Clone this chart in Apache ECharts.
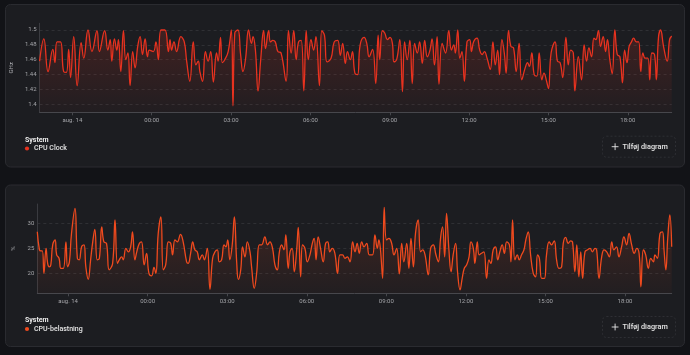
<!DOCTYPE html>
<html><head><meta charset="utf-8">
<script src="https://cdn.jsdelivr.net/npm/echarts@6/dist/echarts.min.js"></script>
<style>html,body{margin:0;padding:0;background:#121317;}#c{width:690px;height:355px;}</style>
</head><body><div id="c"></div>
<script>
// ---- data ----
const xTickHours = [-3, 0, 3, 6, 9, 12, 15, 18];
const xTickLabels = ['aug. 14', '00:00', '03:00', '06:00', '09:00', '12:00', '15:00', '18:00'];
const clockTicks = [1.4, 1.42, 1.44, 1.46, 1.48, 1.5];
const loadTicks = [20, 25, 30];

const clockHours = [-4.24,-4.08,-3.92,-3.74,-3.66,-3.58,-3.45,-3.33,-3.23,-3.14,-3.07,-2.95,-2.82,-2.67,-2.57,-2.41,-2.26,-2.07,-1.98,-1.78,-1.66,-1.57,-1.51,-1.41,-1.32,-1.26,-1.17,-1.07,-0.98,-0.90,-0.82,-0.72,-0.63,-0.53,-0.44,-0.35,-0.25,-0.16,-0.09,0.06,0.16,0.25,0.35,0.50,0.63,0.69,0.75,0.84,0.94,1.10,1.23,1.32,1.44,1.57,1.67,1.76,1.82,1.92,2.03,2.13,2.23,2.33,2.45,2.51,2.60,2.67,2.76,2.89,3.01,3.07,3.14,3.26,3.36,3.45,3.55,3.66,3.77,3.83,3.92,4.02,4.12,4.23,4.30,4.42,4.49,4.58,4.67,4.77,4.89,5.08,5.17,5.27,5.37,5.46,5.55,5.65,5.75,5.84,5.92,6.02,6.12,6.21,6.34,6.43,6.53,6.63,6.78,6.90,7.03,7.13,7.22,7.32,7.40,7.51,7.59,7.68,7.78,7.88,8.03,8.13,8.22,8.35,8.47,8.56,8.62,8.72,8.81,8.91,9.01,9.10,9.16,9.26,9.38,9.48,9.56,9.66,9.76,9.85,9.94,10.04,10.13,10.23,10.32,10.42,10.52,10.60,10.69,10.79,10.86,10.98,11.11,11.23,11.33,11.42,11.48,11.57,11.65,11.73,11.82,11.92,12.02,12.09,12.17,12.30,12.40,12.49,12.58,12.68,12.80,12.90,12.99,13.08,13.15,13.24,13.33,13.40,13.49,13.58,13.68,13.78,13.89,13.99,14.12,14.21,14.28,14.37,14.46,14.56,14.65,14.75,14.83,14.93,15.00,15.10,15.25,15.34,15.44,15.54,15.66,15.75,15.84,15.94,16.00,16.13,16.25,16.35,16.44,16.53,16.63,16.72,16.79,16.89,16.97,17.07,17.16,17.23,17.32,17.41,17.51,17.60,17.70,17.80,17.88,17.97,18.05,18.14,18.22,18.32,18.41,18.49,18.57,18.66,18.76,18.83,18.91,19.01,19.08,19.16,19.24,19.35,19.49,19.58,19.66];
const clockGHz = [1.458,1.488,1.444,1.474,1.456,1.484,1.484,1.444,1.443,1.474,1.436,1.491,1.425,1.483,1.462,1.5,1.471,1.499,1.471,1.499,1.473,1.487,1.458,1.488,1.473,1.487,1.444,1.499,1.46,1.469,1.425,1.471,1.449,1.478,1.491,1.467,1.488,1.464,1.473,1.471,1.484,1.46,1.5,1.5,1.471,1.487,1.473,1.484,1.471,1.491,1.484,1.458,1.431,1.484,1.453,1.458,1.444,1.431,1.471,1.458,1.471,1.430,1.469,1.458,1.490,1.456,1.46,1.471,1.5,1.398,1.496,1.5,1.467,1.444,1.462,1.5,1.482,1.491,1.473,1.418,1.46,1.499,1.475,1.499,1.484,1.486,1.484,1.471,1.469,1.431,1.499,1.469,1.499,1.46,1.484,1.486,1.418,1.499,1.46,1.487,1.473,1.491,1.425,1.499,1.493,1.457,1.462,1.484,1.486,1.466,1.482,1.455,1.471,1.46,1.471,1.442,1.44,1.48,1.49,1.482,1.464,1.474,1.428,1.493,1.46,1.499,1.496,1.487,1.49,1.482,1.457,1.46,1.487,1.417,1.484,1.46,1.486,1.428,1.482,1.469,1.484,1.455,1.486,1.464,1.473,1.488,1.453,1.491,1.427,1.482,1.469,1.499,1.473,1.48,1.469,1.5,1.462,1.471,1.431,1.484,1.487,1.471,1.484,1.489,1.473,1.467,1.471,1.462,1.447,1.484,1.453,1.473,1.44,1.487,1.469,1.442,1.499,1.478,1.476,1.444,1.482,1.433,1.449,1.456,1.451,1.469,1.44,1.438,1.469,1.433,1.442,1.431,1.421,1.469,1.484,1.458,1.456,1.436,1.49,1.453,1.473,1.469,1.418,1.464,1.433,1.48,1.458,1.476,1.464,1.489,1.487,1.499,1.478,1.491,1.471,1.487,1.46,1.441,1.5,1.467,1.464,1.429,1.473,1.456,1.478,1.484,1.489,1.484,1.484,1.444,1.469,1.462,1.462,1.433,1.469,1.467,1.433,1.49,1.5,1.478,1.458,1.487,1.492];

const loadHours = [-4.16,-4.08,-4.03,-3.97,-3.91,-3.83,-3.77,-3.71,-3.65,-3.58,-3.49,-3.43,-3.34,-3.27,-3.18,-3.08,-3.02,-2.95,-2.87,-2.74,-2.65,-2.58,-2.49,-2.40,-2.33,-2.24,-2.15,-2.07,-1.99,-1.90,-1.82,-1.73,-1.65,-1.55,-1.45,-1.32,-1.23,-1.14,-1.07,-0.98,-0.92,-0.82,-0.73,-0.64,-0.57,-0.48,-0.41,-0.31,-0.23,-0.13,-0.04,0.05,0.15,0.24,0.31,0.40,0.50,0.59,0.68,0.78,0.87,0.94,1.03,1.12,1.24,1.34,1.47,1.53,1.62,1.70,1.78,1.87,1.95,2.06,2.14,2.25,2.35,2.45,2.54,2.63,2.70,2.79,2.88,2.95,3.02,3.10,3.19,3.27,3.36,3.42,3.51,3.58,3.67,3.76,3.86,3.92,4.02,4.11,4.21,4.30,4.42,4.52,4.61,4.71,4.80,4.89,4.96,5.05,5.14,5.21,5.30,5.37,5.45,5.53,5.62,5.68,5.77,5.84,5.93,6.02,6.12,6.21,6.28,6.35,6.43,6.52,6.62,6.71,6.79,6.87,6.96,7.06,7.16,7.25,7.35,7.44,7.53,7.63,7.73,7.82,7.90,7.98,8.07,8.16,8.26,8.36,8.48,8.57,8.66,8.72,8.78,8.86,8.92,9.01,9.10,9.20,9.29,9.39,9.49,9.58,9.66,9.77,9.85,9.93,10.02,10.10,10.20,10.29,10.37,10.46,10.58,10.67,10.77,10.87,10.96,11.05,11.12,11.20,11.27,11.36,11.44,11.52,11.61,11.69,11.78,11.86,11.94,12.03,12.12,12.19,12.28,12.34,12.43,12.50,12.59,12.68,12.78,12.87,12.94,13.03,13.12,13.20,13.28,13.37,13.45,13.54,13.64,13.70,13.76,13.85,13.94,14.01,14.10,14.19,14.26,14.35,14.44,14.54,14.63,14.70,14.77,14.86,14.96,15.04,15.14,15.23,15.33,15.42,15.51,15.61,15.67,15.76,15.86,15.95,16.02,16.11,16.18,16.26,16.33,16.40,16.49,16.59,16.68,16.77,16.87,16.93,17.02,17.12,17.21,17.31,17.41,17.50,17.58,17.68,17.77,17.87,17.96,18.06,18.15,18.25,18.35,18.44,18.53,18.60,18.69,18.78,18.88,18.97,19.07,19.13,19.22,19.32,19.41,19.47,19.54,19.61,19.69,19.76];
const loadPct = [28.3,24.7,24.5,24.5,20,25,22,21.3,21.7,25.7,26.7,23.7,23,21,21,26.3,21.3,22.3,28,33,23,22.7,25.3,25.7,21.3,18.8,22.7,26.3,28.8,22.7,23,29.3,26.3,26,20.7,22,30.7,22,22.7,23.3,22.7,25,24.3,25.3,28.3,22.7,24.3,26,26.3,21.7,24,20,19.5,21.2,20,28,31.3,20.7,21.7,26.3,26,23.7,26.7,26.3,27.8,26.3,22.3,22,24,26.3,24.7,24.3,22.7,23.7,22.7,25,16.8,23,24.3,24.7,22.3,22.7,25.7,25.3,26.7,22.7,25.7,31.3,22,18.8,20.7,25.3,23.3,26.3,24.3,21.3,17,20,25.7,25.7,27.3,25.7,26.3,25,21.7,20.7,24,25.7,24.7,27.7,21,24.3,25,20.3,24.7,29.2,19.3,25.7,25,22.3,23.7,26,27,22.7,27.3,25,22.3,26,26.3,24.3,25,24,20,23.7,23.7,23,23.3,22.3,26.3,24.3,26,24,26.3,25.3,26,23.7,23.7,27.7,25,26.7,24.7,19,33.2,26.7,27,26,23.7,25,19.9,26,22.3,26,21,27,21.3,28,30.7,24.3,24.7,23.7,19.7,25,25.7,23.7,22.3,27.3,29.3,23.3,32,24.7,20.3,23.7,26,20,16.7,19,21,21.7,23.3,26.3,25,22,26.3,23.7,24,24.3,19,22.7,22,24.7,25.3,22.7,24.3,25.7,24,26.3,25.7,22.3,30.7,22.7,23.7,22.7,23.7,24.7,26.7,28.3,23.7,20,19.3,23.7,23,19,19,23.7,26.3,25.7,26.5,22.7,21,21.3,26,27.2,26,26.5,26.3,20.3,25.7,19.3,24.3,19,24.3,24.7,25,24.3,25,24.7,19,23.3,24.7,24.3,23.3,26.3,24.7,25.3,23.3,25.3,27.3,25.7,28,25.7,24,25,24,17.3,24.7,23.7,21,23,22.3,23.7,23,28,28.3,24.7,20.7,27,31.7,25.3];

// ---- chart ----
const FONT = 'Roboto, "Noto Sans", sans-serif';
const LABEL = '#a3a4a8';
const zip = (a, b) => a.map((v, i) => [v, b[i]]);

function xAxis(gridIndex, min, max) {
  return {
    type: 'value', gridIndex, min, max,
    axisLine: { show: true, onZero: false, lineStyle: { color: '#46474c', width: 1 } },
    axisTick: { show: true, length: 3, lineStyle: { color: '#46474c' }, customValues: xTickHours },
    axisLabel: {
      color: LABEL, fontSize: 6, fontFamily: FONT, margin: 5,
      customValues: xTickHours,
      formatter: v => { const i = xTickHours.indexOf(v); return i >= 0 ? xTickLabels[i] : ''; }
    },
    splitLine: { show: false }
  };
}
function yAxis(gridIndex, min, max, ticks, name, splitNumber) {
  return {
    type: 'value', gridIndex, min, max, splitNumber,
    name, nameLocation: 'middle', nameGap: 21, nameRotate: 90,
    nameTextStyle: { color: LABEL, fontSize: 6, fontFamily: FONT },
    axisLine: { show: true, onZero: false, lineStyle: { color: '#3a3b40', width: 1 } },
    axisTick: { show: false },
    axisLabel: { color: LABEL, fontSize: 6, fontFamily: FONT, margin: 3, customValues: ticks },
    splitLine: { show: true, showMinLine: false, showMaxLine: false,
      lineStyle: { color: '#38393e', type: [3, 3], width: 0.7 } }
  };
}
function area(r, g, b) {
  return {
    color: new echarts.graphic.LinearGradient(0, 0, 0, 1, [
      { offset: 0, color: `rgba(${r},${g},${b},0.26)` },
      { offset: 1, color: `rgba(${r},${g},${b},0.04)` }
    ])
  };
}

function card(y, h) {
  return { type: 'rect', z: -10, shape: { x: 5.5, y: y, width: 679, height: h, r: 5 },
    style: { fill: '#1c1d21', stroke: '#2a2b30', lineWidth: 1 } };
}
function legend(y, color, label) {
  return [
    { type: 'text', z: 10, style: { text: 'System', x: 25, y: y, font: 'bold 7px ' + FONT, fill: '#ececec', verticalAlign: 'middle' } },
    { type: 'circle', z: 10, shape: { cx: 27, cy: y + 8.5, r: 2.1 }, style: { fill: color } },
    { type: 'text', z: 10, style: { text: label, x: 34, y: y + 8.5, font: '500 7px ' + FONT, fill: '#e6e6e6', verticalAlign: 'middle' } }
  ];
}
function button(y) {
  return [
    { type: 'rect', z: 10, shape: { x: 602.5, y: y - 10.5, width: 73, height: 21, r: 4 },
      style: { fill: 'transparent', stroke: '#2e2f34', lineWidth: 1, lineDash: [2, 2] } },
    { type: 'line', z: 10, shape: { x1: 611.7, y1: y, x2: 618.5, y2: y }, style: { stroke: '#e6e6e6', lineWidth: 0.9 } },
    { type: 'line', z: 10, shape: { x1: 615.1, y1: y - 3.4, x2: 615.1, y2: y + 3.4 }, style: { stroke: '#e6e6e6', lineWidth: 0.9 } },
    { type: 'text', z: 10, style: { text: 'Tilføj diagram', x: 622.5, y: y, font: '500 7.3px ' + FONT, fill: '#e6e6e6', verticalAlign: 'middle' } }
  ];
}

const chart = echarts.init(document.getElementById('c'), null, { renderer: 'canvas' });
chart.setOption({
  backgroundColor: '#121317',
  animation: false,
  textStyle: { fontFamily: FONT },
  grid: [
    { left: 37.3, right: 18.3, top: 23.3, height: 89 },
    { left: 37.3, right: 18.3, top: 204, height: 89.3 }
  ],
  xAxis: [xAxis(0, -4.24, 19.66), xAxis(1, -4.16, 19.76)],
  yAxis: [
    yAxis(0, 1.3892, 1.509, clockTicks, 'GHz', 5),
    yAxis(1, 16.0, 33.86, loadTicks, '%', 3)
  ],
  series: [
    { type: 'line', xAxisIndex: 0, yAxisIndex: 0, data: zip(clockHours, clockGHz),
      smooth: 0.45, showSymbol: false, lineStyle: { color: '#e8321f', width: 1.3 },
      areaStyle: area(232, 50, 31) },
    { type: 'line', xAxisIndex: 1, yAxisIndex: 1, data: zip(loadHours, loadPct),
      smooth: 0.45, showSymbol: false, lineStyle: { color: '#f04a1e', width: 1.3 },
      areaStyle: area(240, 74, 30) }
  ],
  graphic: [
    card(4.5, 162.5), card(185, 161.5),
    ...legend(140, '#e8321f', 'CPU Clock'),
    ...legend(320.5, '#f04a1e', 'CPU-belastning'),
    ...button(146.7), ...button(327)
  ]
});
</script></body></html>
